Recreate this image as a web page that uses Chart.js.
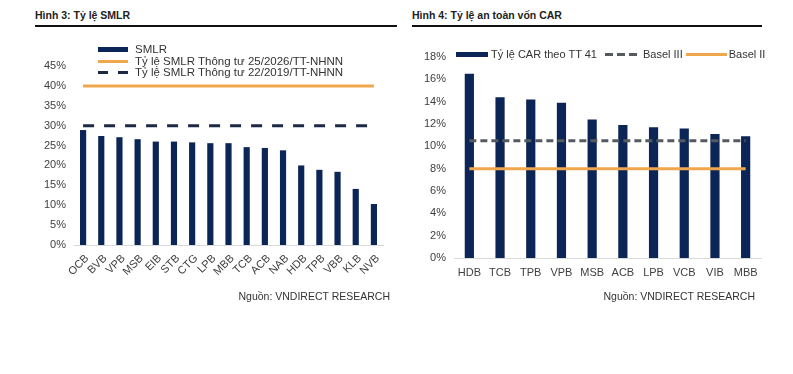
<!DOCTYPE html>
<html>
<head>
<meta charset="utf-8">
<script src="https://cdn.jsdelivr.net/npm/chart.js@4"></script>
<style>
  html,body{margin:0;padding:0;background:#fff;}
  #wrap{position:relative;width:793px;height:374px;background:#fff;font-family:"Liberation Sans",Arial,sans-serif;overflow:hidden;}
  .title{position:absolute;font-weight:bold;font-size:10.5px;color:#222;line-height:14px;}
  .rule{position:absolute;height:2px;background:#111;}
  .src{position:absolute;font-size:10.5px;color:#333;line-height:14px;white-space:nowrap;text-align:right;}
  .leg{position:absolute;font-size:11px;color:#333;line-height:12px;white-space:nowrap;}
  .row{position:absolute;display:flex;align-items:center;height:12px;}
  .sw{position:relative;display:inline-block;}
  canvas{position:absolute;}
</style>
</head>
<body>
<div id="wrap">
  <div class="title" style="left:35px;top:8px;">Hình 3: Tỷ lệ SMLR</div>
  <div class="rule" style="left:35px;top:25px;width:362px;"></div>
  <div class="title" style="left:412px;top:8px;">Hình 4: Tỷ lệ an toàn vốn CAR</div>
  <div class="rule" style="left:412px;top:25px;width:350px;"></div>

  <canvas id="c1" width="400" height="300" style="left:0;top:0;width:400px;height:300px;"></canvas>
  <canvas id="c2" width="393" height="300" style="left:400px;top:0;width:393px;height:300px;"></canvas>

  <div id="leg1" class="leg" style="left:98px;top:43px;font-size:11.5px;"></div>
  <div id="leg2" class="leg" style="left:456px;top:48px;"></div>

  <div class="src" style="right:403px;top:289px;">Nguồn: VNDIRECT RESEARCH</div>
  <div class="src" style="right:38px;top:289px;">Nguồn: VNDIRECT RESEARCH</div>
</div>
<script>
// ---- Chart 1: SMLR ----
const smlrBanks = ['OCB','BVB','VPB','MSB','EIB','STB','CTG','LPB','MBB','TCB','ACB','NAB','HDB','TPB','VBB','KLB','NVB'];
const smlrValues = [28.9,27.4,27.1,26.6,26.0,26.0,25.8,25.6,25.6,24.6,24.4,23.8,20.0,18.9,18.4,14.1,10.3];
const smlrLimit2026 = [40,40,40,40,40,40,40,40,40,40,40,40,40,40,40,40,40];
const smlrLimit2019 = [30,30,30,30,30,30,30,30,30,30,30,30,30,30,30,30,30];
const smlrLabels = ['SMLR','Tỷ lệ SMLR Thông tư 25/2026/TT-NHNN','Tỷ lệ SMLR Thông tư 22/2019/TT-NHNN'];

// ---- Chart 2: CAR ----
const carBanks = ['HDB','TCB','TPB','VPB','MSB','ACB','LPB','VCB','VIB','MBB'];
const carValues = [16.5,14.4,14.2,13.9,12.4,11.9,11.7,11.6,11.1,10.9];
const basel3 = [10.5,10.5,10.5,10.5,10.5,10.5,10.5,10.5,10.5,10.5];
const basel2 = [8,8,8,8,8,8,8,8,8,8];
const carLabels = ['Tỷ lệ CAR theo TT 41','Basel III','Basel II'];

const NAVY = '#0c2557';
const ORANGE = '#f0a64c';
const DNAVY = '#1c2844';
const GRAY = '#555a60';
const FONT = {family:'"Liberation Sans", Arial, sans-serif', size:11};
const TICK = '#404040';

function baseOpts(max, step, yW, xH, pad){
  return {
    responsive:false, animation:false, maintainAspectRatio:false,
    layout:{padding:pad},
    plugins:{legend:{display:false}, tooltip:{enabled:false}},
    scales:{
      x:{
        grid:{display:false, drawTicks:false},
        border:{display:true, color:'#d9d9d9', width:1},
        ticks:{color:TICK, font:FONT, padding:8, autoSkip:false},
        afterFit:s=>{s.height=xH;}
      },
      y:{
        min:0, max:max,
        grid:{display:false, drawTicks:false},
        border:{display:false},
        ticks:{color:TICK, font:FONT, stepSize:step, padding:8, callback:v=>v+'%'},
        afterFit:s=>{s.width=yW;}
      }
    }
  };
}

const o1 = baseOpts(45,5,74,55,{top:66,right:17,left:0,bottom:0});
o1.scales.x.ticks.minRotation = 45;
o1.scales.x.ticks.maxRotation = 45;
o1.scales.x.ticks.padding = 7;
o1.scales.x.ticks.labelOffset = 4;
new Chart(document.getElementById('c1'),{
  data:{
    labels:smlrBanks,
    datasets:[
      {type:'bar', label:smlrLabels[0], data:smlrValues, backgroundColor:NAVY, barPercentage:0.34, categoryPercentage:1, order:1},
      {type:'line', label:smlrLabels[1], data:smlrLimit2026, borderColor:ORANGE, borderWidth:3, pointRadius:0, fill:false, order:0},
      {type:'line', label:smlrLabels[2], data:smlrLimit2019, borderColor:DNAVY, borderWidth:3, borderDash:[11,10], pointRadius:0, fill:false, order:0}
    ]
  },
  options:o1
});

const o2 = baseOpts(18,2,54,42,{top:57,right:32,left:0,bottom:0});
o2.scales.x.ticks.maxRotation = 0;
o2.scales.x.ticks.minRotation = 0;
new Chart(document.getElementById('c2'),{
  data:{
    labels:carBanks,
    datasets:[
      {type:'bar', label:carLabels[0], data:carValues, backgroundColor:NAVY, barPercentage:0.3, categoryPercentage:1, order:1},
      {type:'line', label:carLabels[1], data:basel3, borderColor:GRAY, borderWidth:3, borderDash:[7,4], pointRadius:0, fill:false, order:0},
      {type:'line', label:carLabels[2], data:basel2, borderColor:ORANGE, borderWidth:3, pointRadius:0, fill:false, order:0}
    ]
  },
  options:o2
});

// ---- HTML legends ----
function swatch(kind,color,w){
  if(kind==='bar') return `<span class="sw" style="width:${w}px;height:5px;background:${color};"></span>`;
  if(kind==='line') return `<span class="sw" style="width:${w}px;height:3px;background:${color};"></span>`;
  return `<span class="sw" style="width:${w}px;height:3px;background:repeating-linear-gradient(90deg,${color} 0 ${kind[1]}px,transparent ${kind[1]}px ${kind[1]+kind[2]}px);"></span>`;
}
const l1 = document.getElementById('leg1');
l1.innerHTML =
  `<div class="row" style="left:0;top:0;">${swatch('bar',NAVY,30)}<span style="margin-left:7px">${smlrLabels[0]}</span></div>`+
  `<div class="row" style="left:0;top:12px;">${swatch('line',ORANGE,30)}<span style="margin-left:7px">${smlrLabels[1]}</span></div>`+
  `<div class="row" style="left:0;top:23px;">${swatch(['d',10,10],DNAVY,30)}<span style="margin-left:7px">${smlrLabels[2]}</span></div>`;
const l2 = document.getElementById('leg2');
l2.innerHTML =
  `<div class="row" style="left:0;top:0;">${swatch('bar',NAVY,32)}<span style="margin-left:3px">${carLabels[0]}</span>`+
  `<span style="margin-left:8px"></span>${swatch(['d',8,4],GRAY,35)}<span style="margin-left:3px">${carLabels[1]}</span>`+
  `<span style="margin-left:3px"></span>${swatch('line',ORANGE,41)}<span style="margin-left:2px">${carLabels[2]}</span></div>`;
</script>
</body>
</html>
